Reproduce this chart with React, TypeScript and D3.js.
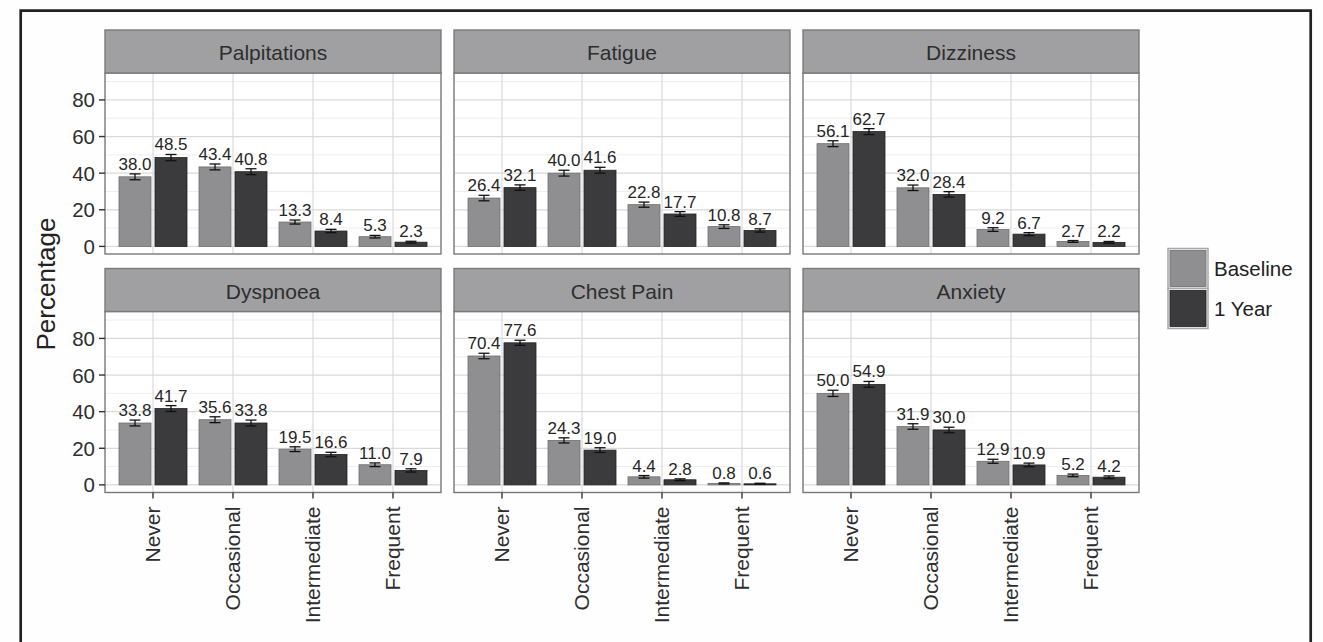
import React from "react";
import * as d3 from "d3";

const categories = ["Never", "Occasional", "Intermediate", "Frequent"];
const seriesNames = ["Baseline", "1 Year"];
const symptoms = ["Palpitations", "Fatigue", "Dizziness", "Dyspnoea", "Chest Pain", "Anxiety"];

const baselineValues = [
  [38.0, 43.4, 13.3, 5.3],
  [26.4, 40.0, 22.8, 10.8],
  [56.1, 32.0, 9.2, 2.7],
  [33.8, 35.6, 19.5, 11.0],
  [70.4, 24.3, 4.4, 0.8],
  [50.0, 31.9, 12.9, 5.2],
];
const yearValues = [
  [48.5, 40.8, 8.4, 2.3],
  [32.1, 41.6, 17.7, 8.7],
  [62.7, 28.4, 6.7, 2.2],
  [41.7, 33.8, 16.6, 7.9],
  [77.6, 19.0, 2.8, 0.6],
  [54.9, 30.0, 10.9, 4.2],
];
const baselineErrors = [
  [1.6, 1.6, 1.1, 0.7],
  [1.5, 1.6, 1.4, 1.0],
  [1.6, 1.5, 1.0, 0.5],
  [1.6, 1.6, 1.3, 1.0],
  [1.5, 1.4, 0.7, 0.3],
  [1.7, 1.5, 1.1, 0.7],
];
const yearErrors = [
  [1.7, 1.6, 0.9, 0.5],
  [1.5, 1.6, 1.3, 0.9],
  [1.6, 1.5, 0.8, 0.5],
  [1.6, 1.6, 1.2, 0.9],
  [1.4, 1.3, 0.5, 0.3],
  [1.6, 1.5, 1.0, 0.7],
];
const yTicks = [0, 20, 40, 60, 80];
const yMinor = [10, 30, 50, 70, 90];

const FONT = "'Liberation Sans', Arial, Helvetica, sans-serif";
const colors: Record<string, string> = { Baseline: "#8f8f91", "1 Year": "#3b3b3d" };
const strokes: Record<string, string> = { Baseline: "#6e6e70", "1 Year": "#222224" };

const colX = [105, 454, 803];
const rowTop = [30, 268.5];
const panelW = 336;
const stripH = 43;
const panelH = 181;

export default function App() {
  const panels = symptoms.map((name, i) => {
    const col = i % 3;
    const row = Math.floor(i / 3);
    const x0 = colX[col];
    const sTop = rowTop[row];
    const pTop = sTop + stripH;
    const x = d3.scaleBand<string>().domain(categories).range([x0, x0 + panelW]).paddingInner(0).paddingOuter(0.1);
    const y = d3.scaleLinear().domain([-4.15, 94.7]).range([pTop + panelH, pTop]);
    const sub = d3
      .scaleBand<string>()
      .domain(seriesNames)
      .range([-x.bandwidth() * 0.45, x.bandwidth() * 0.45]);
    const barW = x.bandwidth() * 0.4;
    const vals = [baselineValues[i], yearValues[i]];
    const errs = [baselineErrors[i], yearErrors[i]];
    const cx = (c: string) => (x(c) as number) + x.bandwidth() / 2;
    return (
      <g key={name}>
        <rect x={x0} y={pTop} width={panelW} height={panelH} fill="#ffffff" />
        {yMinor.map((t) => (
          <line key={"mi" + t} x1={x0} x2={x0 + panelW} y1={y(t)} y2={y(t)} stroke="#eeeeee" strokeWidth={1} />
        ))}
        {yTicks.map((t) => (
          <line key={"ma" + t} x1={x0} x2={x0 + panelW} y1={y(t)} y2={y(t)} stroke="#dadada" strokeWidth={1.2} />
        ))}
        {categories.map((c) => (
          <line key={"v" + c} x1={cx(c)} x2={cx(c)} y1={pTop} y2={pTop + panelH} stroke="#dadada" strokeWidth={1.2} />
        ))}
        {seriesNames.map((s, si) =>
          categories.map((c, ci) => {
            const v = vals[si][ci];
            const bx = cx(c) + (sub(s) as number) + sub.bandwidth() / 2 - barW / 2;
            return (
              <rect
                key={s + c}
                x={bx}
                y={y(v)}
                width={barW}
                height={y(0) - y(v)}
                fill={colors[s]}
                stroke={strokes[s]}
                strokeWidth={0.8}
              />
            );
          })
        )}
        {seriesNames.map((s, si) =>
          categories.map((c, ci) => {
            const v = vals[si][ci];
            const e = errs[si][ci];
            const mx = cx(c) + (sub(s) as number) + sub.bandwidth() / 2;
            const hw = 5.5;
            return (
              <g key={"e" + s + c} stroke="#111" strokeWidth={1.3}>
                <line x1={mx} x2={mx} y1={y(v - e)} y2={y(v + e)} />
                <line x1={mx - hw} x2={mx + hw} y1={y(v - e)} y2={y(v - e)} />
                <line x1={mx - hw} x2={mx + hw} y1={y(v + e)} y2={y(v + e)} />
              </g>
            );
          })
        )}
        {seriesNames.map((s, si) =>
          categories.map((c, ci) => {
            const v = vals[si][ci];
            const e = errs[si][ci];
            const mx = cx(c) + (sub(s) as number) + sub.bandwidth() / 2;
            return (
              <text
                key={"t" + s + c}
                x={mx}
                y={y(v + e) - 4}
                textAnchor="middle"
                fontSize={17}
                fill="#262626"
                fontFamily={FONT}
              >
                {v.toFixed(1)}
              </text>
            );
          })
        )}
        <rect x={x0} y={pTop} width={panelW} height={panelH} fill="none" stroke="#777" strokeWidth={1.4} />
        <rect x={x0} y={sTop} width={panelW} height={stripH} fill="#a0a0a2" stroke="#7a7a7a" strokeWidth={1.4} />
        <text
          x={x0 + panelW / 2}
          y={sTop + stripH / 2 + 1}
          textAnchor="middle"
          dominantBaseline="central"
          fontSize={21}
          fill="#2e2e2e"
          fontFamily={FONT}
        >
          {name}
        </text>
        {col === 0 &&
          yTicks.map((t) => (
            <g key={"yt" + t}>
              <line x1={x0 - 6} x2={x0} y1={y(t)} y2={y(t)} stroke="#333" strokeWidth={1.4} />
              <text
                x={x0 - 10}
                y={y(t)}
                textAnchor="end"
                dominantBaseline="central"
                fontSize={20.5}
                fill="#2e2e2e"
                fontFamily={FONT}
              >
                {t}
              </text>
            </g>
          ))}
        {row === 1 &&
          categories.map((c) => (
            <g key={"xt" + c}>
              <line x1={cx(c)} x2={cx(c)} y1={pTop + panelH} y2={pTop + panelH + 6} stroke="#333" strokeWidth={1.4} />
              <text
                transform={`translate(${cx(c) - 1},${pTop + panelH + 14}) rotate(-90)`}
                textAnchor="end"
                dominantBaseline="central"
                fontSize={21}
                fill="#2e2e2e"
                fontFamily={FONT}
              >
                {c}
              </text>
            </g>
          ))}
      </g>
    );
  });

  const legendX = 1168;
  const legendY = 248.5;
  const keySize = 40;

  return (
    <svg
      width={1323}
      height={642}
      style={{ position: "absolute", left: 0, top: 0, background: "#fefefe" }}
      fontFamily={FONT}
    >
      <rect x={0} y={0} width={1323} height={642} fill="#fefefe" />
      <path d="M20.7,642 L20.7,10.7 L1310.7,10.7 L1310.7,642" fill="none" stroke="#222" strokeWidth={2.7} />
      {panels}
      <text
        transform={`translate(46,284) rotate(-90)`}
        textAnchor="middle"
        dominantBaseline="central"
        fontSize={26}
        fill="#222"
        fontFamily={FONT}
      >
        Percentage
      </text>
      {seriesNames.map((s, i) => (
        <g key={"lg" + s}>
          <rect
            x={legendX}
            y={legendY + i * keySize}
            width={keySize}
            height={keySize}
            fill="#f2f2f2"
            stroke="#a8a8a8"
            strokeWidth={1.5}
          />
          <rect
            x={legendX + 2}
            y={legendY + i * keySize + 2}
            width={keySize - 4}
            height={keySize - 4}
            fill={colors[s]}
            stroke={strokes[s]}
            strokeWidth={0.8}
          />
          <text
            x={legendX + keySize + 6}
            y={legendY + i * keySize + keySize / 2}
            dominantBaseline="central"
            fontSize={20.5}
            fill="#222"
            fontFamily={FONT}
          >
            {s}
          </text>
        </g>
      ))}
    </svg>
  );
}
